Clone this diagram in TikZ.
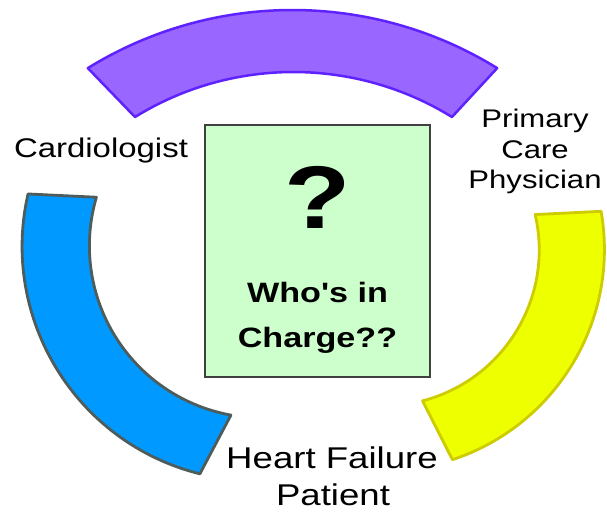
\documentclass[tikz,border=0pt]{standalone}
\usepackage{fontspec}
\setmainfont{Liberation Sans}[FakeStretch=1.22, Ligatures=TeXOff]
\usetikzlibrary{calc}
\definecolor{purplefill}{HTML}{9966FF}
\definecolor{purpleline}{HTML}{5E22FF}
\definecolor{bluefill}{HTML}{0099FF}
\definecolor{blueline}{HTML}{4E5C5C}
\definecolor{yellowfill}{HTML}{EEFF00}
\definecolor{yellowline}{HTML}{CCCC00}
\definecolor{boxfill}{HTML}{CCFFCC}
\definecolor{boxline}{HTML}{404040}
\tikzset{
  arcpurple/.style={fill=purplefill, draw=purpleline, line width=2.5pt, line join=round},
  arcblue/.style={fill=bluefill, draw=blueline, line width=2.8pt, line join=round},
  arcyellow/.style={fill=yellowfill, draw=yellowline, line width=2.8pt, line join=round},
  label/.style={inner sep=0pt, anchor=base, text=black},
  centerbox/.style={fill=boxfill, draw=boxline, line width=1.5pt}
}
\begin{document}
\begin{tikzpicture}[x=1pt,y=-1pt]
\useasboundingbox (0,0) rectangle (607,513);
\fill[white] (0,0) rectangle (607,513);
% purple arc (top)
\draw[arcpurple] ($(292.5,399.5)+(-121.7:389.5)$) arc[start angle=-121.7, end angle=-58.3, radius=389.5]
  -- ($(293.5,373.6)+(-58.3:301.6)$) arc[start angle=-58.3, end angle=-121.7, radius=301.6] -- cycle;
% blue arc (left)
\draw[arcblue] ($(256.6,246.3)+(192.9:234.5)$) arc[start angle=192.9, end angle=104, radius=234.5]
  -- ($(261.4,245.8)+(100.2:172)$) arc[start angle=100.2, end angle=196.4, radius=172] -- cycle;
% yellow arc (right)
\draw[arcyellow] ($(382.9,249.4)+(-9.9:221.5)$) arc[start angle=-9.9, end angle=71.7, radius=221.5]
  -- ($(383.2,249.9)+(75.4:156)$) arc[start angle=75.4, end angle=-13.1, radius=156] -- cycle;
% center box
\node[centerbox, minimum width=225pt, minimum height=252pt, inner sep=0pt] (box) at (317.5,251) {};
\node[label, font=\bfseries\fontsize{89}{89}\selectfont] (qmark) at (318,228) {?};
\node[label, font=\bfseries\fontsize{28}{34}\selectfont] (who1) at (317.5,302) {Who's in};
\node[label, font=\bfseries\fontsize{28}{34}\selectfont] (who2) at (317.5,347) {Charge??};
% labels
\node[label, font=\fontsize{27}{32}\selectfont] (cardio) at (101,158) {Cardiologist};
\node[label, font=\fontsize{25.5}{30}\selectfont] (pcp1) at (535,128) {Primary};
\node[label, font=\fontsize{25.5}{30}\selectfont] (pcp2) at (535,159) {Care};
\node[label, font=\fontsize{25.5}{30}\selectfont] (pcp3) at (535,188) {Physician};
\node[label, font=\fontsize{30}{37}\selectfont] (hf1) at (332,468) {Heart Failure};
\node[label, font=\fontsize{30}{37}\selectfont] (hf2) at (333,505) {Patient};
\end{tikzpicture}
\end{document}
